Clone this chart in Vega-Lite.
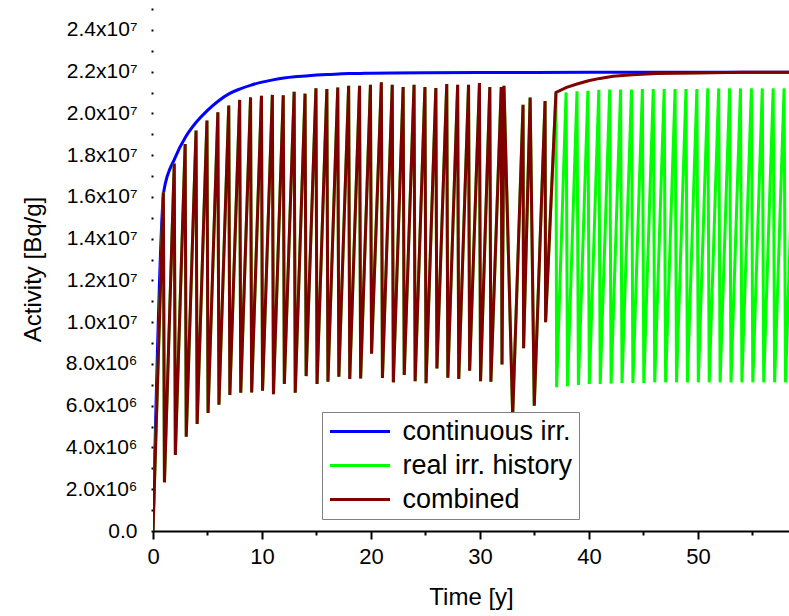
{
  "$schema": "https://vega.github.io/schema/vega-lite/v6.json",
  "width": 636,
  "height": 524,
  "autosize": {"type": "none"},
  "padding": {"left": 153, "top": 7, "right": 0, "bottom": 85},
  "background": "white",
  "config": {
    "view": {"stroke": null},
    "font": "Liberation Sans",
    "axis": {"labelColor": "black", "titleColor": "black", "grid": false, "titleFontWeight": "normal", "labelFont": "Liberation Sans", "titleFont": "Liberation Sans"},
    "legend": {"labelFont": "Liberation Sans"}
  },
  "datasets": {
    "series": [
      {"series": "continuous irr.", "t": 0, "v": 0},
      {"series": "continuous irr.", "t": 1, "v": 16300000},
      {"series": "continuous irr.", "t": 2, "v": 17850000},
      {"series": "continuous irr.", "t": 3, "v": 18880000},
      {"series": "continuous irr.", "t": 4, "v": 19600000},
      {"series": "continuous irr.", "t": 5, "v": 20150000},
      {"series": "continuous irr.", "t": 6, "v": 20600000},
      {"series": "continuous irr.", "t": 7, "v": 20950000},
      {"series": "continuous irr.", "t": 8, "v": 21180000},
      {"series": "continuous irr.", "t": 9, "v": 21360000},
      {"series": "continuous irr.", "t": 10, "v": 21500000},
      {"series": "continuous irr.", "t": 11, "v": 21610000},
      {"series": "continuous irr.", "t": 12, "v": 21700000},
      {"series": "continuous irr.", "t": 13, "v": 21760000},
      {"series": "continuous irr.", "t": 14, "v": 21800000},
      {"series": "continuous irr.", "t": 15, "v": 21840000},
      {"series": "continuous irr.", "t": 16, "v": 21870000},
      {"series": "continuous irr.", "t": 17, "v": 21890000},
      {"series": "continuous irr.", "t": 18, "v": 21910000},
      {"series": "continuous irr.", "t": 19, "v": 21920000},
      {"series": "continuous irr.", "t": 20, "v": 21930000},
      {"series": "continuous irr.", "t": 22, "v": 21940000},
      {"series": "continuous irr.", "t": 25, "v": 21950000},
      {"series": "continuous irr.", "t": 30, "v": 21960000},
      {"series": "continuous irr.", "t": 35, "v": 21960000},
      {"series": "continuous irr.", "t": 40, "v": 21970000},
      {"series": "continuous irr.", "t": 50, "v": 21970000},
      {"series": "continuous irr.", "t": 58.4, "v": 21970000},

      {"series": "real irr. history", "t": 0, "v": 0},
      {"series": "real irr. history", "t": 0.95, "v": 16220000},
      {"series": "real irr. history", "t": 1.05, "v": 2330000},
      {"series": "real irr. history", "t": 1.95, "v": 17600000},
      {"series": "real irr. history", "t": 2.05, "v": 3640000},
      {"series": "real irr. history", "t": 2.95, "v": 18540000},
      {"series": "real irr. history", "t": 3.05, "v": 4520000},
      {"series": "real irr. history", "t": 3.95, "v": 19180000},
      {"series": "real irr. history", "t": 4.05, "v": 5130000},
      {"series": "real irr. history", "t": 4.95, "v": 19660000},
      {"series": "real irr. history", "t": 5.05, "v": 5650000},
      {"series": "real irr. history", "t": 5.95, "v": 20060000},
      {"series": "real irr. history", "t": 6.05, "v": 6050000},
      {"series": "real irr. history", "t": 6.95, "v": 20380000},
      {"series": "real irr. history", "t": 7.05, "v": 6520000},
      {"series": "real irr. history", "t": 7.95, "v": 20650000},
      {"series": "real irr. history", "t": 8.05, "v": 6620000},
      {"series": "real irr. history", "t": 8.95, "v": 20770000},
      {"series": "real irr. history", "t": 9.05, "v": 6640000},
      {"series": "real irr. history", "t": 9.95, "v": 20850000},
      {"series": "real irr. history", "t": 10.05, "v": 6720000},
      {"series": "real irr. history", "t": 10.95, "v": 20890000},
      {"series": "real irr. history", "t": 11.05, "v": 6550000},
      {"series": "real irr. history", "t": 11.95, "v": 20870000},
      {"series": "real irr. history", "t": 12.05, "v": 7040000},
      {"series": "real irr. history", "t": 12.95, "v": 21040000},
      {"series": "real irr. history", "t": 13.05, "v": 6620000},
      {"series": "real irr. history", "t": 13.95, "v": 20950000},
      {"series": "real irr. history", "t": 14.05, "v": 7420000},
      {"series": "real irr. history", "t": 14.95, "v": 21210000},
      {"series": "real irr. history", "t": 15.05, "v": 7040000},
      {"series": "real irr. history", "t": 15.95, "v": 21170000},
      {"series": "real irr. history", "t": 16.05, "v": 7150000},
      {"series": "real irr. history", "t": 16.95, "v": 21240000},
      {"series": "real irr. history", "t": 17.05, "v": 7390000},
      {"series": "real irr. history", "t": 17.95, "v": 21330000},
      {"series": "real irr. history", "t": 18.05, "v": 7280000},
      {"series": "real irr. history", "t": 18.95, "v": 21330000},
      {"series": "real irr. history", "t": 19.05, "v": 7310000},
      {"series": "real irr. history", "t": 19.95, "v": 21370000},
      {"series": "real irr. history", "t": 20.05, "v": 8490000},
      {"series": "real irr. history", "t": 20.95, "v": 21490000},
      {"series": "real irr. history", "t": 21.05, "v": 7330000},
      {"series": "real irr. history", "t": 21.95, "v": 21370000},
      {"series": "real irr. history", "t": 22.05, "v": 7120000},
      {"series": "real irr. history", "t": 22.95, "v": 21270000},
      {"series": "real irr. history", "t": 23.05, "v": 7470000},
      {"series": "real irr. history", "t": 23.95, "v": 21370000},
      {"series": "real irr. history", "t": 24.05, "v": 7170000},
      {"series": "real irr. history", "t": 24.95, "v": 21270000},
      {"series": "real irr. history", "t": 25.05, "v": 7080000},
      {"series": "real irr. history", "t": 25.95, "v": 21220000},
      {"series": "real irr. history", "t": 26.05, "v": 7790000},
      {"series": "real irr. history", "t": 26.95, "v": 21410000},
      {"series": "real irr. history", "t": 27.05, "v": 7340000},
      {"series": "real irr. history", "t": 27.95, "v": 21370000},
      {"series": "real irr. history", "t": 28.05, "v": 7280000},
      {"series": "real irr. history", "t": 28.95, "v": 21370000},
      {"series": "real irr. history", "t": 29.05, "v": 7680000},
      {"series": "real irr. history", "t": 29.95, "v": 21460000},
      {"series": "real irr. history", "t": 30.05, "v": 7170000},
      {"series": "real irr. history", "t": 30.9, "v": 21270000},
      {"series": "real irr. history", "t": 31.0, "v": 7150000},
      {"series": "real irr. history", "t": 31.95, "v": 21270000},
      {"series": "real irr. history", "t": 32.02, "v": 7970000},
      {"series": "real irr. history", "t": 32.2, "v": 21330000},
      {"series": "real irr. history", "t": 33.0, "v": 5500000},
      {"series": "real irr. history", "t": 33.95, "v": 20420000},
      {"series": "real irr. history", "t": 34.0, "v": 8750000},
      {"series": "real irr. history", "t": 34.6, "v": 20760000},
      {"series": "real irr. history", "t": 34.98, "v": 6000000},
      {"series": "real irr. history", "t": 35.97, "v": 20600000},
      {"series": "real irr. history", "t": 36.02, "v": 10000000},
      {"series": "real irr. history", "t": 36.97, "v": 21010000},
      {"series": "real irr. history", "t": 37.03, "v": 6880000},
      {"series": "real irr. history", "t": 37.9, "v": 21010000},
      {"series": "real irr. history", "t": 38.03, "v": 6930000},
      {"series": "real irr. history", "t": 38.9, "v": 21060000},
      {"series": "real irr. history", "t": 39.03, "v": 6990000},
      {"series": "real irr. history", "t": 39.9, "v": 21090000},
      {"series": "real irr. history", "t": 40.03, "v": 7040000},
      {"series": "real irr. history", "t": 40.9, "v": 21130000},
      {"series": "real irr. history", "t": 41.03, "v": 7040000},
      {"series": "real irr. history", "t": 41.9, "v": 21150000},
      {"series": "real irr. history", "t": 42.03, "v": 7060000},
      {"series": "real irr. history", "t": 42.9, "v": 21150000},
      {"series": "real irr. history", "t": 43.03, "v": 7090000},
      {"series": "real irr. history", "t": 43.9, "v": 21150000},
      {"series": "real irr. history", "t": 44.03, "v": 7090000},
      {"series": "real irr. history", "t": 44.9, "v": 21170000},
      {"series": "real irr. history", "t": 45.03, "v": 7090000},
      {"series": "real irr. history", "t": 45.9, "v": 21170000},
      {"series": "real irr. history", "t": 46.03, "v": 7120000},
      {"series": "real irr. history", "t": 46.9, "v": 21170000},
      {"series": "real irr. history", "t": 47.03, "v": 7120000},
      {"series": "real irr. history", "t": 47.9, "v": 21170000},
      {"series": "real irr. history", "t": 48.03, "v": 7120000},
      {"series": "real irr. history", "t": 48.9, "v": 21170000},
      {"series": "real irr. history", "t": 49.03, "v": 7120000},
      {"series": "real irr. history", "t": 49.9, "v": 21170000},
      {"series": "real irr. history", "t": 50.03, "v": 7120000},
      {"series": "real irr. history", "t": 50.9, "v": 21200000},
      {"series": "real irr. history", "t": 51.03, "v": 7120000},
      {"series": "real irr. history", "t": 51.9, "v": 21200000},
      {"series": "real irr. history", "t": 52.03, "v": 7120000},
      {"series": "real irr. history", "t": 52.9, "v": 21200000},
      {"series": "real irr. history", "t": 53.03, "v": 7120000},
      {"series": "real irr. history", "t": 53.9, "v": 21200000},
      {"series": "real irr. history", "t": 54.03, "v": 7120000},
      {"series": "real irr. history", "t": 54.9, "v": 21200000},
      {"series": "real irr. history", "t": 55.03, "v": 7120000},
      {"series": "real irr. history", "t": 55.9, "v": 21200000},
      {"series": "real irr. history", "t": 56.03, "v": 7120000},
      {"series": "real irr. history", "t": 56.9, "v": 21200000},
      {"series": "real irr. history", "t": 57.03, "v": 7120000},
      {"series": "real irr. history", "t": 57.9, "v": 21200000},
      {"series": "real irr. history", "t": 58.03, "v": 7120000},
      {"series": "real irr. history", "t": 58.9, "v": 21200000},

      {"series": "combined", "t": 0, "v": 0},
      {"series": "combined", "t": 0.95, "v": 16220000},
      {"series": "combined", "t": 1.05, "v": 2330000},
      {"series": "combined", "t": 1.95, "v": 17600000},
      {"series": "combined", "t": 2.05, "v": 3640000},
      {"series": "combined", "t": 2.95, "v": 18540000},
      {"series": "combined", "t": 3.05, "v": 4520000},
      {"series": "combined", "t": 3.95, "v": 19180000},
      {"series": "combined", "t": 4.05, "v": 5130000},
      {"series": "combined", "t": 4.95, "v": 19660000},
      {"series": "combined", "t": 5.05, "v": 5650000},
      {"series": "combined", "t": 5.95, "v": 20060000},
      {"series": "combined", "t": 6.05, "v": 6050000},
      {"series": "combined", "t": 6.95, "v": 20380000},
      {"series": "combined", "t": 7.05, "v": 6520000},
      {"series": "combined", "t": 7.95, "v": 20650000},
      {"series": "combined", "t": 8.05, "v": 6620000},
      {"series": "combined", "t": 8.95, "v": 20770000},
      {"series": "combined", "t": 9.05, "v": 6640000},
      {"series": "combined", "t": 9.95, "v": 20850000},
      {"series": "combined", "t": 10.05, "v": 6720000},
      {"series": "combined", "t": 10.95, "v": 20890000},
      {"series": "combined", "t": 11.05, "v": 6550000},
      {"series": "combined", "t": 11.95, "v": 20870000},
      {"series": "combined", "t": 12.05, "v": 7040000},
      {"series": "combined", "t": 12.95, "v": 21040000},
      {"series": "combined", "t": 13.05, "v": 6620000},
      {"series": "combined", "t": 13.95, "v": 20950000},
      {"series": "combined", "t": 14.05, "v": 7420000},
      {"series": "combined", "t": 14.95, "v": 21210000},
      {"series": "combined", "t": 15.05, "v": 7040000},
      {"series": "combined", "t": 15.95, "v": 21170000},
      {"series": "combined", "t": 16.05, "v": 7150000},
      {"series": "combined", "t": 16.95, "v": 21240000},
      {"series": "combined", "t": 17.05, "v": 7390000},
      {"series": "combined", "t": 17.95, "v": 21330000},
      {"series": "combined", "t": 18.05, "v": 7280000},
      {"series": "combined", "t": 18.95, "v": 21330000},
      {"series": "combined", "t": 19.05, "v": 7310000},
      {"series": "combined", "t": 19.95, "v": 21370000},
      {"series": "combined", "t": 20.05, "v": 8490000},
      {"series": "combined", "t": 20.95, "v": 21490000},
      {"series": "combined", "t": 21.05, "v": 7330000},
      {"series": "combined", "t": 21.95, "v": 21370000},
      {"series": "combined", "t": 22.05, "v": 7120000},
      {"series": "combined", "t": 22.95, "v": 21270000},
      {"series": "combined", "t": 23.05, "v": 7470000},
      {"series": "combined", "t": 23.95, "v": 21370000},
      {"series": "combined", "t": 24.05, "v": 7170000},
      {"series": "combined", "t": 24.95, "v": 21270000},
      {"series": "combined", "t": 25.05, "v": 7080000},
      {"series": "combined", "t": 25.95, "v": 21220000},
      {"series": "combined", "t": 26.05, "v": 7790000},
      {"series": "combined", "t": 26.95, "v": 21410000},
      {"series": "combined", "t": 27.05, "v": 7340000},
      {"series": "combined", "t": 27.95, "v": 21370000},
      {"series": "combined", "t": 28.05, "v": 7280000},
      {"series": "combined", "t": 28.95, "v": 21370000},
      {"series": "combined", "t": 29.05, "v": 7680000},
      {"series": "combined", "t": 29.95, "v": 21460000},
      {"series": "combined", "t": 30.05, "v": 7170000},
      {"series": "combined", "t": 30.9, "v": 21270000},
      {"series": "combined", "t": 31.0, "v": 7150000},
      {"series": "combined", "t": 31.95, "v": 21270000},
      {"series": "combined", "t": 32.02, "v": 7970000},
      {"series": "combined", "t": 32.2, "v": 21330000},
      {"series": "combined", "t": 33.0, "v": 5500000},
      {"series": "combined", "t": 33.95, "v": 20420000},
      {"series": "combined", "t": 34.0, "v": 8750000},
      {"series": "combined", "t": 34.6, "v": 20760000},
      {"series": "combined", "t": 34.98, "v": 6000000},
      {"series": "combined", "t": 35.97, "v": 20600000},
      {"series": "combined", "t": 36.02, "v": 10000000},
      {"series": "combined", "t": 36.97, "v": 21010000},
      {"series": "combined", "t": 37.95, "v": 21250000},
      {"series": "combined", "t": 38.9, "v": 21410000},
      {"series": "combined", "t": 39.95, "v": 21570000},
      {"series": "combined", "t": 41.0, "v": 21680000},
      {"series": "combined", "t": 42.2, "v": 21780000},
      {"series": "combined", "t": 44.0, "v": 21860000},
      {"series": "combined", "t": 46.2, "v": 21910000},
      {"series": "combined", "t": 50.0, "v": 21940000},
      {"series": "combined", "t": 54.0, "v": 21970000},
      {"series": "combined", "t": 58.4, "v": 21970000}
    ],
    "refs": [{"t": 40}, {"t": 50}]
  },
  "data": {"name": "series"},
  "encoding": {
    "x": {
      "field": "t",
      "type": "quantitative",
      "title": "Time [y]",
      "scale": {"domain": [0, 58.35], "nice": false, "zero": false},
      "axis": {
        "values": [0, 5, 10, 15, 20, 25, 30, 35, 40, 45, 50, 55],
        "labelExpr": "datum.value % 10 === 0 ? datum.label : ''",
        "domainColor": "black",
        "domainWidth": 2,
        "tickColor": "black",
        "tickWidth": 2,
        "tickSize": {"condition": {"test": "datum.value % 10 === 0", "value": 8}, "value": 4},
        "labelFontSize": 22,
        "labelPadding": 7,
        "labelFlush": false,
        "titleFontSize": 24,
        "titlePadding": 18
      }
    },
    "y": {
      "field": "v",
      "type": "quantitative",
      "title": "Activity [Bq/g]",
      "scale": {"domain": [0, 25100000], "nice": false, "zero": true},
      "axis": {
        "values": [0, 1000000, 2000000, 3000000, 4000000, 5000000, 6000000, 7000000, 8000000, 9000000, 10000000, 11000000, 12000000, 13000000, 14000000, 15000000, 16000000, 17000000, 18000000, 19000000, 20000000, 21000000, 22000000, 23000000, 24000000, 25000000],
        "labelExpr": "(datum.value % 2000000 !== 0 || datum.value > 24000000) ? '' : (datum.value === 0 ? '0.0' : (datum.value >= 10000000 ? format(datum.value / 10000000, '.1f') + 'x10⁷' : format(datum.value / 1000000, '.1f') + 'x10⁶'))",
        "domain": false,
        "tickColor": "black",
        "tickWidth": 2,
        "tickSize": 2,
        "labelFontSize": 21,
        "labelPadding": 14,
        "labelFlush": false,
        "titleFontSize": 24,
        "titlePadding": 20
      }
    }
  },
  "layer": [
    {
      "data": {"name": "refs"},
      "mark": {"type": "rule", "color": "black", "strokeWidth": 1.5, "strokeDash": [2, 3]},
      "encoding": {
        "y": {"datum": 0},
        "y2": {"datum": 25100000}
      }
    },
    {
      "data": {"values": [{}]},
      "mark": {"type": "rule", "color": "black", "strokeWidth": 2},
      "encoding": {
        "x": {"datum": 0},
        "x2": {"datum": 58.35},
        "y": {"datum": 25100000}
      }
    },
    {
      "transform": [{"filter": "datum.series === 'continuous irr.'"}],
      "mark": {"type": "line", "strokeWidth": 3, "clip": true, "interpolate": "monotone"},
      "encoding": {
        "color": {
          "field": "series", "type": "nominal",
          "scale": {"domain": ["continuous irr.", "real irr. history", "combined"], "range": ["#0000ff", "#00ff00", "#800000"]},
          "legend": {"orient": "none", "legendX": 169, "legendY": 405, "title": null, "symbolType": "M-3,0L3,0", "symbolSize": 400, "symbolOffset": 18.5, "symbolStrokeWidth": 3, "labelFontSize": 27, "labelOffset": 29, "padding": 6, "strokeColor": "#808080", "fillColor": "white", "rowPadding": 6, "labelColor": "black", "labelLimit": 400}
        }
      }
    },
    {
      "transform": [{"filter": "datum.series === 'real irr. history'"}],
      "mark": {"type": "line", "strokeWidth": 3, "clip": true},
      "encoding": {
        "color": {
          "field": "series", "type": "nominal",
          "scale": {"domain": ["continuous irr.", "real irr. history", "combined"], "range": ["#0000ff", "#00ff00", "#800000"]},
          "legend": {"orient": "none", "legendX": 169, "legendY": 405, "title": null, "symbolType": "M-3,0L3,0", "symbolSize": 400, "symbolOffset": 18.5, "symbolStrokeWidth": 3, "labelFontSize": 27, "labelOffset": 29, "padding": 6, "strokeColor": "#808080", "fillColor": "white", "rowPadding": 6, "labelColor": "black", "labelLimit": 400}
        }
      }
    },
    {
      "transform": [{"filter": "datum.series === 'combined'"}],
      "mark": {"type": "line", "strokeWidth": 3, "clip": true},
      "encoding": {
        "color": {
          "field": "series", "type": "nominal",
          "scale": {"domain": ["continuous irr.", "real irr. history", "combined"], "range": ["#0000ff", "#00ff00", "#800000"]},
          "legend": {"orient": "none", "legendX": 169, "legendY": 405, "title": null, "symbolType": "M-3,0L3,0", "symbolSize": 400, "symbolOffset": 18.5, "symbolStrokeWidth": 3, "labelFontSize": 27, "labelOffset": 29, "padding": 6, "strokeColor": "#808080", "fillColor": "white", "rowPadding": 6, "labelColor": "black", "labelLimit": 400}
        }
      }
    }
  ]
}
